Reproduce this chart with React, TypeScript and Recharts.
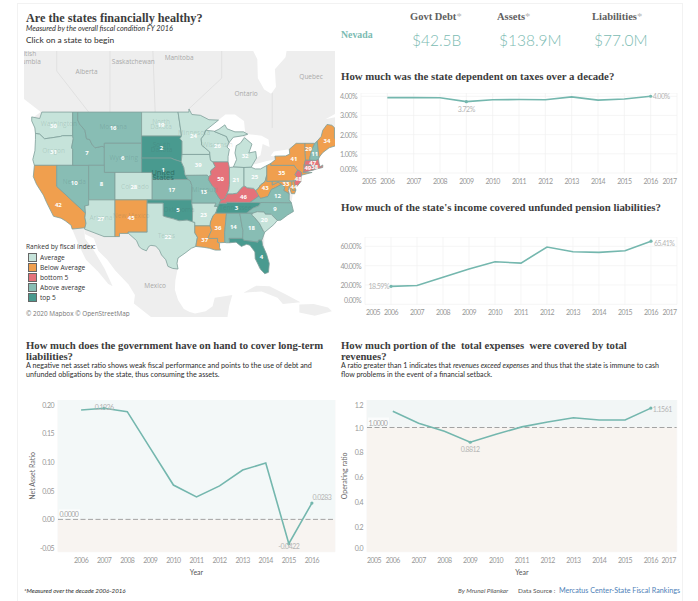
import {
  CartesianGrid,
  ComposedChart,
  Line,
  ReferenceArea,
  ReferenceLine,
  Scatter,
  ScatterChart,
  XAxis,
  YAxis,
} from "recharts";

type Lonlat = [number, number];

const years = [2006, 2007, 2008, 2009, 2010, 2011, 2012, 2013, 2014, 2015, 2016];
const yearsWide = [2005, ...years, 2017];

const taxShare = [3.93, 3.93, 3.92, 3.72, 3.82, 3.83, 3.82, 3.97, 3.8, 3.86, 4.0];
const pensionCover = [18.59, 19.5, 28, 36.5, 44, 42.7, 59.3, 54.5, 53.8, 55.5, 65.41];
const netAssetRatio = [0.1896, 0.1926, 0.1867, 0.123, 0.0595, 0.039, 0.058, 0.0855, 0.0977, -0.0422, 0.0283];
const operatingRatio = [1.1315, 1.035, 0.97, 0.8812, 0.946, 1.005, 1.045, 1.078, 1.06, 1.06, 1.1561];

const tierColors: Record<string, string> = {
  Average: "#c6e3da",
  "Below Average": "#f09f4e",
  "bottom 5": "#e4727a",
  "Above average": "#88bdb4",
  "top 5": "#499a8f",
};
const tierNames = Object.keys(tierColors);

// state, rank, tier, label lon, label lat
const stateRanks: [string, string, string, number, number][] = [
  ["WA", "30", "Average", -120.6, 47.3],
  ["OR", "31", "Average", -120.6, 43.9],
  ["CA", "42", "Below Average", -119.7, 36.2],
  ["NV", "10", "Above average", -116.7, 39.5],
  ["ID", "7", "Above average", -114.3, 43.7],
  ["MT", "16", "Above average", -109.4, 47],
  ["WY", "6", "Above average", -107.6, 43],
  ["UT", "8", "Above average", -111.6, 39.3],
  ["AZ", "27", "Average", -111.7, 34.1],
  ["CO", "28", "Average", -105.5, 38.9],
  ["NM", "45", "Below Average", -106, 34.3],
  ["ND", "19", "Average", -100.4, 47.4],
  ["SD", "2", "top 5", -100.3, 44.4],
  ["NE", "1", "top 5", -100, 41.4],
  ["KS", "17", "Above average", -98.4, 38.4],
  ["OK", "5", "top 5", -97.2, 35.4],
  ["TX", "22", "Average", -99.1, 31.2],
  ["MN", "24", "Average", -94.3, 46],
  ["IA", "39", "Average", -93.4, 42],
  ["MO", "13", "Above average", -92.4, 38.2],
  ["AR", "23", "Average", -92.4, 34.7],
  ["LA", "37", "Below Average", -92.2, 30.8],
  ["MS", "36", "Below Average", -89.7, 32.7],
  ["AL", "14", "Above average", -86.8, 32.8],
  ["GA", "18", "Above average", -83.4, 32.7],
  ["FL", "4", "top 5", -81.5, 28],
  ["TN", "3", "top 5", -86.2, 35.8],
  ["KY", "46", "bottom 5", -84.9, 37.5],
  ["IL", "50", "bottom 5", -89.2, 40],
  ["WI", "26", "Average", -89.8, 44.6],
  ["MI", "32", "Average", -84.6, 43.3],
  ["IN", "21", "Average", -86.3, 39.9],
  ["OH", "25", "Average", -82.8, 40.3],
  ["WV", "43", "Below Average", -80.8, 38.7],
  ["VA", "12", "Above average", -78.5, 37.6],
  ["NC", "9", "Above average", -79, 35.6],
  ["SC", "20", "Average", -81, 33.9],
  ["PA", "35", "Below Average", -77.7, 40.9],
  ["NY", "41", "Below Average", -75.4, 42.9],
  ["NJ", "48", "bottom 5", -74.6, 40.1],
  ["MD", "33", "Below Average", -76.9, 39.4],
  ["DE", "44", "Below Average", -75.4, 38.9],
  ["CT", "49", "bottom 5", -72.8, 41.6],
  ["RI", "38", "bottom 5", -71.5, 41.7],
  ["MA", "47", "bottom 5", -71.9, 42.35],
  ["VT", "29", "Below Average", -72.7, 44.2],
  ["NH", "11", "Above average", -71.5, 43.6],
  ["ME", "34", "Below Average", -69.2, 45.3],
];

const stateOutlines: Record<string, Lonlat[][]> = {
  WA: [[[-124.7,48.4],[-123.2,48.2],[-122.8,49],[-117,49],[-117,46],[-118.9,46],[-119.3,45.9],[-121.2,45.7],[-122.3,45.6],[-123.2,46.2],[-124,46.3],[-124.1,47],[-124.7,47.9]]],
  OR: [[[-124,46.3],[-123.2,46.2],[-122.3,45.6],[-121.2,45.7],[-119.3,45.9],[-118.9,46],[-117,46],[-116.9,45.6],[-117.2,44.4],[-117,44.2],[-117,42],[-124.2,42],[-124.5,42.8],[-124.1,44],[-124,45.5]]],
  CA: [[[-124.2,42],[-120,42],[-120,39],[-114.6,35],[-114.7,34.3],[-114.5,33.4],[-114.7,32.7],[-117.1,32.5],[-117.3,33.1],[-118.4,33.8],[-119.2,34.2],[-120.6,34.5],[-121.9,36.6],[-122.5,37.7],[-123.8,39.3],[-124.4,40.4]]],
  NV: [[[-120,42],[-114,42],[-114,36.2],[-114.7,36.1],[-114.6,35],[-120,39]]],
  ID: [[[-117,49],[-116.05,49],[-116.05,48],[-115.7,47.5],[-114.7,46.7],[-114.4,45.6],[-113.8,45.5],[-113.4,44.9],[-112.8,44.4],[-111.5,44.6],[-111.05,44.5],[-111.05,42],[-117,42],[-117,44.2],[-117.2,44.4],[-116.9,45.6],[-117,46]]],
  MT: [[[-116.05,49],[-104.05,49],[-104.05,45],[-111.05,45],[-111.05,44.5],[-111.5,44.6],[-112.8,44.4],[-113.4,44.9],[-113.8,45.5],[-114.4,45.6],[-114.7,46.7],[-115.7,47.5],[-116.05,48]]],
  WY: [[[-111.05,45],[-104.05,45],[-104.05,41],[-111.05,41]]],
  UT: [[[-114,42],[-111.05,42],[-111.05,41],[-109.05,41],[-109.05,37],[-114,37]]],
  AZ: [[[-114,37],[-109.05,37],[-109.05,31.3],[-111.1,31.3],[-114.8,32.5],[-114.7,32.7],[-114.5,33.4],[-114.7,34.3],[-114.6,35],[-114.7,36.1],[-114,36.2]]],
  CO: [[[-109.05,41],[-102.05,41],[-102.05,37],[-109.05,37]]],
  NM: [[[-109.05,37],[-103,37],[-103,32],[-106.6,32],[-106.5,31.8],[-108.2,31.8],[-108.2,31.3],[-109.05,31.3]]],
  ND: [[[-104.05,49],[-97.2,49],[-96.6,46.3],[-96.55,45.95],[-104.05,45.95]]],
  SD: [[[-104.05,45.95],[-96.55,45.95],[-96.85,45.6],[-96.45,45.3],[-96.45,43.5],[-96.6,42.5],[-97.9,42.8],[-98.5,43],[-104.05,43]]],
  NE: [[[-104.05,43],[-98.5,43],[-97.9,42.8],[-96.6,42.5],[-96.1,41.7],[-95.9,40.7],[-95.3,40],[-102.05,40],[-102.05,41],[-104.05,41]]],
  KS: [[[-102.05,40],[-95.3,40],[-94.9,39.8],[-94.6,39.1],[-94.6,37],[-102.05,37]]],
  OK: [[[-103,37],[-94.6,37],[-94.45,35.4],[-94.5,33.65],[-95.5,33.9],[-97,33.8],[-98.1,34.1],[-99.5,34.4],[-100,34.55],[-100,36.5],[-103,36.5]]],
  TX: [[[-103,36.5],[-100,36.5],[-100,34.55],[-99.5,34.4],[-98.1,34.1],[-97,33.8],[-95.5,33.9],[-94.5,33.65],[-94.05,33.55],[-94.05,31.9],[-93.55,31.2],[-93.75,30.3],[-93.85,29.7],[-94.7,29.4],[-95.9,28.6],[-97.2,27.8],[-97.4,26.9],[-97.2,25.95],[-98.2,26.05],[-99.1,26.4],[-99.5,27.5],[-100.3,28.3],[-100.7,29.1],[-101.4,29.77],[-102.3,29.88],[-102.7,29.7],[-103.15,28.98],[-104,29.3],[-104.5,29.65],[-105,30.65],[-106.5,31.8],[-106.6,32],[-103,32]]],
  MN: [[[-97.2,49],[-95.15,49],[-95.15,49.38],[-94.6,48.7],[-93,48.6],[-91.4,48.05],[-89.6,48],[-92,46.7],[-92.3,46.1],[-92.85,45.6],[-92.75,44.75],[-91.25,43.85],[-91.22,43.5],[-96.45,43.5],[-96.45,45.3],[-96.85,45.6],[-96.55,45.95],[-96.6,46.3]]],
  IA: [[[-96.45,43.5],[-91.22,43.5],[-91.1,42.7],[-90.65,42.5],[-90.2,41.8],[-91.1,41.2],[-91,40.7],[-91.42,40.38],[-91.7,40.6],[-95.8,40.58],[-95.9,40.7],[-96.1,41.7],[-96.6,42.5]]],
  MO: [[[-95.8,40.58],[-91.7,40.6],[-91.42,40.38],[-91.5,40],[-90.7,39],[-90.2,38.7],[-90.2,38.2],[-89.5,37.3],[-89.15,36.98],[-89.4,36.5],[-89.7,36],[-90.37,36],[-90.1,36.5],[-94.62,36.5],[-94.6,37],[-94.6,39.1],[-94.9,39.8],[-95.3,40]]],
  AR: [[[-94.62,36.5],[-90.1,36.5],[-90.37,36],[-89.7,36],[-90.1,35],[-90.6,34.6],[-91.1,33.6],[-91.17,33],[-94.05,33],[-94.05,33.55],[-94.5,33.65],[-94.45,35.4]]],
  LA: [[[-94.05,33],[-91.17,33],[-90.9,32.3],[-91.6,31],[-89.75,31],[-89.8,30.4],[-89.4,30.2],[-89.4,29.5],[-89.2,29.1],[-90.2,29.1],[-91.3,29.4],[-92.3,29.55],[-93.85,29.7],[-93.75,30.3],[-93.55,31.2],[-94.05,31.9]]],
  MS: [[[-90.1,35],[-88.2,35],[-88.1,34.9],[-88.45,31.9],[-88.4,30.35],[-89.4,30.3],[-89.8,30.4],[-89.75,31],[-91.6,31],[-90.9,32.3],[-91.17,33],[-91.1,33.6],[-90.6,34.6]]],
  AL: [[[-88.2,35],[-85.6,35],[-85.15,32.85],[-85,32.3],[-85.05,31],[-87.6,31],[-87.5,30.3],[-88.1,30.3],[-88.4,30.35],[-88.45,31.9],[-88.1,34.9]]],
  GA: [[[-85.6,35],[-83.1,35],[-83.35,34.7],[-82.8,34.3],[-81.9,33.4],[-81.1,32.1],[-80.9,32],[-81.45,30.7],[-82.05,30.75],[-82.2,30.4],[-84.85,30.7],[-85.05,31],[-85,32.3],[-85.15,32.85]]],
  FL: [[[-87.6,31],[-85.05,31],[-84.85,30.7],[-82.2,30.4],[-82.05,30.75],[-81.45,30.7],[-81.3,29.9],[-80.55,28.4],[-80.05,26.9],[-80.2,25.4],[-80.9,25.15],[-81.7,25.9],[-82.7,27.7],[-82.75,28.8],[-83.7,29.9],[-84.3,30.05],[-85.3,29.7],[-86.3,30.4],[-87.5,30.3]]],
  TN: [[[-90.1,35],[-89.7,36],[-89.4,36.5],[-88.05,36.5],[-88.07,36.65],[-83.7,36.6],[-81.65,36.6],[-82,36.1],[-83.1,35.75],[-84.3,35],[-88.2,35]]],
  KY: [[[-89.4,36.5],[-89.15,36.98],[-88.5,37.1],[-87.9,37.9],[-87,37.9],[-86.1,38],[-85.4,38.7],[-84.8,39.1],[-84.2,38.8],[-83,38.7],[-82.6,38.4],[-82,37.55],[-83.7,36.6],[-88.07,36.65],[-88.05,36.5]]],
  IL: [[[-91.42,40.38],[-91,40.7],[-91.1,41.2],[-90.2,41.8],[-90.65,42.5],[-87.8,42.5],[-87.55,41.7],[-87.53,39.3],[-87.65,38.5],[-88.05,37.8],[-88.5,37.1],[-89.15,36.98],[-89.5,37.3],[-90.2,38.2],[-90.2,38.7],[-90.7,39],[-91.5,40]]],
  WI: [[[-92,46.7],[-90.5,46.6],[-88.1,45.9],[-87.6,45.1],[-88,44.5],[-87.55,44.2],[-87.8,43.2],[-87.8,42.5],[-90.65,42.5],[-91.1,42.7],[-91.22,43.5],[-91.25,43.85],[-92.75,44.75],[-92.85,45.6],[-92.3,46.1]]],
  MI: [
    [[-86.8,41.76],[-84.8,41.7],[-83.45,41.73],[-83.1,42.2],[-82.45,43],[-82.6,43.9],[-83.9,43.7],[-83.3,44.9],[-84.7,45.75],[-85.5,45],[-86.25,44.7],[-86.5,43.7],[-86.2,42.8]],
    [[-90.4,46.55],[-88.1,45.9],[-87.6,45.1],[-86.8,45.8],[-85,46],[-84.1,46.2],[-84.9,46.5],[-86.5,46.5],[-88,46.9],[-88.4,47.4],[-89.5,46.85]],
  ],
  IN: [[[-87.53,41.7],[-86.8,41.76],[-84.8,41.7],[-84.8,39.1],[-85.4,38.7],[-86.1,38],[-87,37.9],[-87.9,37.9],[-88.05,37.8],[-87.65,38.5],[-87.53,39.3]]],
  OH: [[[-84.8,41.7],[-83.45,41.73],[-82.7,41.5],[-81.7,41.5],[-80.52,41.98],[-80.52,40.64],[-80.85,39.7],[-81.7,39.2],[-82.2,38.6],[-82.6,38.4],[-83,38.7],[-84.2,38.8],[-84.8,39.1]]],
  WV: [[[-82.6,38.4],[-82.2,38.6],[-81.7,39.2],[-80.85,39.7],[-80.52,40.64],[-80.52,39.72],[-79.48,39.72],[-79.48,39.2],[-78.4,39.62],[-77.75,39.3],[-78.9,38.8],[-79.65,38.55],[-80.3,37.5],[-81.7,37.2],[-82,37.55]]],
  VA: [[[-83.7,36.6],[-82,37.55],[-81.7,37.2],[-80.3,37.5],[-79.65,38.55],[-78.9,38.8],[-77.75,39.3],[-77.1,38.85],[-77.3,38.4],[-76.3,37.9],[-76.3,37],[-75.9,36.55],[-81.65,36.6]]],
  NC: [[[-81.65,36.6],[-75.9,36.55],[-75.5,35.25],[-76.6,34.7],[-77.9,33.9],[-78.55,33.85],[-79.7,34.8],[-80.8,34.82],[-81,35.15],[-82.3,35.2],[-83.1,35],[-84.3,35],[-83.1,35.75],[-82,36.1]]],
  SC: [[[-83.1,35],[-82.3,35.2],[-81,35.15],[-80.8,34.82],[-79.7,34.8],[-78.55,33.85],[-79.2,33.2],[-80.9,32],[-81.1,32.1],[-81.9,33.4],[-82.8,34.3],[-83.35,34.7]]],
  PA: [[[-80.52,41.98],[-79.76,42.27],[-79.76,42],[-75.35,42],[-75.05,41.6],[-74.7,41.36],[-75.2,40.7],[-74.75,40.2],[-75.4,39.8],[-80.52,39.72],[-80.52,40.64]]],
  NY: [[[-79.76,42.27],[-78.9,42.8],[-79,43.27],[-77,43.3],[-76.2,43.55],[-76.3,44.2],[-75,45],[-73.35,45],[-73.3,43.6],[-73.25,42.75],[-73.5,42.05],[-73.5,41.3],[-73.65,41],[-72,41],[-74.05,40.6],[-74,41],[-74.7,41.36],[-75.05,41.6],[-75.35,42],[-79.76,42]]],
  NJ: [[[-74.7,41.36],[-74,41],[-74.05,40.4],[-74.1,39.7],[-74.9,38.95],[-75.5,39.5],[-74.75,40.2],[-75.2,40.7]]],
  DE: [[[-75.8,39.72],[-75.4,39.8],[-75.05,38.45],[-75.7,38.45]]],
  MD: [[[-79.48,39.72],[-75.8,39.72],[-75.7,38.45],[-75.05,38.45],[-75.3,37.9],[-75.9,37.95],[-76.3,39],[-76.5,38.4],[-76.3,37.95],[-77.3,38.4],[-77.1,38.85],[-77.75,39.3],[-78.4,39.62],[-79.48,39.2]]],
  CT: [[[-73.5,42.05],[-71.8,42],[-71.85,41.32],[-73.65,41],[-73.5,41.3]]],
  RI: [[[-71.8,42],[-71.38,42],[-71.15,41.5],[-71.85,41.32]]],
  MA: [[[-73.5,42.05],[-73.25,42.75],[-71.3,42.7],[-70.8,42.87],[-70.7,42.3],[-70.5,41.8],[-70,42.05],[-70,41.7],[-71.15,41.5],[-71.38,42],[-71.8,42]]],
  VT: [[[-73.35,45],[-71.5,45],[-72.05,44.1],[-72.45,43],[-72.45,42.73],[-73.25,42.75],[-73.3,43.6]]],
  NH: [[[-71.5,45],[-71.05,45.3],[-70.7,43.1],[-70.8,42.87],[-71.3,42.7],[-72.45,42.73],[-72.45,43],[-72.05,44.1]]],
  ME: [[[-71.05,45.3],[-70.3,45.9],[-70,46.7],[-69.2,47.45],[-68.3,47.35],[-67.8,47.05],[-67.8,45.7],[-67,44.8],[-68.8,44.4],[-70,43.75],[-70.7,43.1]]],
};

const landOutlines: Lonlat[][] = [
  [[-127,57],[-84,57],[-82.3,55.1],[-82.2,53],[-81,51.7],[-79.7,51.2],[-78.8,52],[-79,54],[-77,55.3],[-76.5,57],[-66,57],[-66,49.4],[-69.5,48.1],[-66,48.6],[-66,45.5],[-68,45],[-70.5,43.5],[-71,42],[-74.2,40.5],[-75.5,38.5],[-76,36],[-78,34.5],[-81,32.5],[-81,30],[-81,26],[-82,26],[-83,29.5],[-85,30.5],[-89,30.8],[-92,30],[-95,29.8],[-97.3,27.5],[-97.3,25.9],[-97.7,24],[-97.8,22.4],[-97.2,20.6],[-96.1,19],[-95,18.5],[-94,18.2],[-92,18.6],[-90.7,19.5],[-90.3,21],[-87,21.5],[-87.6,19.5],[-88,17],[-101.5,17],[-105.5,20],[-105.3,21.5],[-106.5,23.3],[-109,25.7],[-110.5,27.5],[-112.2,29],[-113,31],[-114.7,31.7],[-114.8,32.5],[-117,32.6],[-118,34],[-122,37],[-124,40],[-124,46],[-124.5,48.3],[-123,49],[-125,50],[-127,51]],
  [[-117.1,32.5],[-114.8,32.5],[-114.7,31],[-113,29],[-111,26],[-109.5,23],[-110.3,23.4],[-112.2,25.5],[-114.5,27.5],[-115.9,30]],
  [[-84.9,21.9],[-82.5,23.1],[-80,23],[-77,21.6],[-74.2,20.2],[-77.5,19.9],[-78.5,21],[-81.5,22.1]],
  [[-74.4,19.8],[-71.7,19.9],[-69,19.3],[-68.3,18.6],[-71.5,17.8],[-74.4,18.4]],
];

const lakeOutlines: Lonlat[][] = [
  [[-92.1,46.7],[-89.6,48],[-88.3,48.7],[-86.5,48.7],[-84.8,47.9],[-84.6,46.5],[-86.5,46.5],[-88,46.9],[-88.4,47.4],[-89.5,46.85],[-90.5,46.6]],
  [[-87.8,42.5],[-87.55,41.7],[-86.8,41.76],[-86.2,42.8],[-86.5,43.7],[-86.25,44.7],[-85.5,45],[-84.9,45.8],[-85,46],[-86.8,45.8],[-87.6,45.1],[-88,44.5],[-87.55,44.2],[-87.8,43.2]],
  [[-84.7,45.8],[-83.3,44.9],[-83.9,43.7],[-82.6,43.9],[-82.45,43],[-81.7,43.4],[-81.3,44.9],[-80,44.5],[-80.2,45.5],[-81.5,46],[-84,46.2]],
  [[-83.45,41.73],[-82.7,41.5],[-81.7,41.5],[-80.52,41.98],[-78.9,42.8],[-80.5,42.6],[-83.1,42.1]],
  [[-79.8,43.3],[-79,43.27],[-77,43.3],[-76.2,43.55],[-76.3,44.2],[-79.2,43.9]],
];

const borderLines: Lonlat[][] = [
  [[-120,57],[-120,53.8],[-114,49]],
  [[-110,57],[-110,49]],
  [[-102,57],[-101.5,49]],
  [[-89,57],[-89,53],[-95.15,49.4]],
  [[-79.5,47],[-79.5,51.3]],
];

const placeNames: [string, number, number][] = [
  ["British", -125.7, 55.7],
  ["Columbia", -125.7, 54.9],
  ["Alberta", -114.4, 53.7],
  ["Saskatchewan", -105.6, 54.8],
  ["Manitoba", -97, 55.3],
  ["Ontario", -84.4, 51.2],
  ["Quebec", -72.2, 53.2],
  ["Mexico", -101.5, 23.1],
];

const faintStateNames: [string, number, number][] = [
  ["Washington", -119.6, 47.55],
  ["Oregon", -120.6, 44.1],
  ["Montana", -109.4, 47.25],
  ["North", -100.4, 47.8],
  ["Dakota", -100.4, 47.2],
  ["South", -100.3, 44.9],
  ["Dakota", -100.3, 44.2],
  ["Nevada", -116.7, 39.7],
  ["Wyoming", -107.4, 43.1],
  ["Colorado", -105.3, 39],
  ["Arizona", -111.7, 34.3],
  ["New Mexico", -106, 34.6],
  ["Texas", -99.4, 31.4],
  ["Oklahoma", -97, 35.5],
  ["Minnesota", -94.2, 46.4],
  ["Wisconsin", -89.8, 44.8],
  ["Missouri", -92.2, 38.5],
  ["Tennessee", -86.4, 35.9],
];

const MAP_FONT = "'Open Sans', sans-serif";
const BOOK_FONT = "Lato, 'Open Sans', sans-serif";
const HEAD_FONT = "'Liberation Serif', serif";
const TEAL = "#7bbbb2";
const LINE_TEAL = "#74b7ae";

// web map vertical position
const merc = (lat: number) => Math.log(Math.tan(Math.PI / 4 + (lat * Math.PI) / 360));
const toPoints = (ring: Lonlat[]) => [...ring, ring[0]].map(([lon, lat]) => ({ x: lon, y: merc(lat) }));

const ring = (key: string, pts: Lonlat[], fill: string, stroke: string, strokeWidth = 0.8) => (
  <Scatter
    key={key}
    data={toPoints(pts)}
    line={{ fill, stroke, strokeWidth }}
    shape={() => null}
    isAnimationActive={false}
  />
);

const textLayer = (key: string, rows: [string, number, number][], style: any) => (
  <Scatter
    key={key}
    data={rows.map(([label, lon, lat]) => ({ x: lon, y: merc(lat), label }))}
    isAnimationActive={false}
    shape={(p: any) => (
      <text x={p.cx} y={p.cy} textAnchor="middle" dominantBaseline="central" fontFamily={MAP_FONT} {...style}>
        {p.payload.label}
      </text>
    )}
  />
);

function StateMap() {
  return (
    <div style={{ position: "absolute", left: 24, top: 51, width: 311, height: 266, overflow: "hidden", background: "#fff" }}>
      <ScatterChart width={311} height={266} margin={{ top: 0, right: 0, bottom: 0, left: 0 }}>
        <XAxis type="number" dataKey="x" domain={[-126.15, -67.7]} allowDataOverflow hide />
        <YAxis type="number" dataKey="y" domain={[0.312, 1.184]} allowDataOverflow hide />
        {landOutlines.map((r, i) => ring(`land${i}`, r, "#eeeeee", "none", 0))}
        {lakeOutlines.map((r, i) => ring(`lake${i}`, r, "#ffffff", "none", 0))}
        {borderLines.map((r, i) => (
          <Scatter
            key={`border${i}`}
            data={r.map(([lon, lat]) => ({ x: lon, y: merc(lat) }))}
            line={{ stroke: "#d6d6d6", strokeWidth: 0.6 }}
            shape={() => null}
            isAnimationActive={false}
          />
        ))}
        {textLayer("places", placeNames, { fontSize: 6.5, fill: "#a9a9a9" })}
        {stateRanks.flatMap(([code, , tier]) =>
          stateOutlines[code].map((r, i) => ring(`${code}${i}`, r, tierColors[tier], "#7f9f9b"))
        )}
        {textLayer("faint", faintStateNames, { fontSize: 6.5, fill: "rgba(70,100,100,0.2)" })}
        {textLayer("us", [["United", -100, 41.1], ["States", -100, 40.4]], { fontSize: 7.5, fill: "#2f6f66" })}
        {textLayer(
          "ranks",
          stateRanks.map(([, rank, , lon, lat]) => [rank, lon, lat] as [string, number, number]),
          { fontSize: 6, fontWeight: 700, fill: "#ffffff" }
        )}
      </ScatterChart>
      <div style={{ position: "absolute", left: 2, top: 191, font: `6.6px ${MAP_FONT}`, color: "#333" }}>
        <div style={{ height: 10 }}>Ranked by fiscal index:</div>
        {tierNames.map((name) => (
          <div key={name} style={{ display: "flex", alignItems: "center", height: 10, marginLeft: 2 }}>
            <span style={{ width: 7, height: 7, background: tierColors[name], border: "0.8px solid #666", marginRight: 3 }} />
            {name}
          </div>
        ))}
      </div>
      <div style={{ position: "absolute", left: 2, top: 258, font: `6.4px ${MAP_FONT}`, color: "#777", whiteSpace: "nowrap" }}>
        © 2020 Mapbox © OpenStreetMap
      </div>
    </div>
  );
}

type Note = { index: number; text: string; dx: number; dy: number; anchor?: string };

type TrendProps = {
  left: number;
  top: number;
  plotWidth: number;
  plotHeight: number;
  axisWidth: number;
  xHeight: number;
  values: number[];
  yDomain: [number, number];
  yTicks: number[];
  yFormat: (v: number) => string;
  yShift: Record<number, number>;
  xTicks: number[];
  xShift: Record<number, number>;
  notes: Note[];
  dotted: number[];
  yTitle?: string;
  xTitle?: string;
  split?: number;
  splitLabel?: string;
  upperBand?: string;
  lowerBand?: string;
};

function Trend(p: TrendProps) {
  const data = years.map((year, i) => ({ year, value: p.values[i] }));
  const tickStyle = { fontFamily: BOOK_FONT, fontSize: 7, letterSpacing: -0.5, fill: "#979797" };
  return (
    <div style={{ position: "absolute", left: p.left - p.axisWidth, top: p.top }}>
      <ComposedChart
        width={p.plotWidth + p.axisWidth + 10}
        height={p.plotHeight + p.xHeight}
        data={data}
        margin={{ top: 0, right: 10, bottom: 0, left: 0 }}
      >
        {p.upperBand && (
          <ReferenceArea y1={p.split} y2={p.yDomain[1]} x1={2005} x2={2017} fill={p.upperBand} fillOpacity={1} stroke="none" />
        )}
        {p.lowerBand && (
          <ReferenceArea y1={p.yDomain[0]} y2={p.split} x1={2005} x2={2017} fill={p.lowerBand} fillOpacity={1} stroke="none" />
        )}
        <CartesianGrid stroke="#f1f1f1" strokeWidth={0.7} />
        <XAxis
          type="number"
          dataKey="year"
          domain={[2005, 2017]}
          ticks={p.xTicks}
          height={p.xHeight}
          axisLine={false}
          tickLine={false}
          interval={0}
          tick={(t: any) => (
            <text x={t.x + (p.xShift[t.payload.value] ?? 0)} y={p.plotHeight + 8} textAnchor="middle" dominantBaseline="central" {...tickStyle}>
              {t.payload.value}
            </text>
          )}
          label={
            p.xTitle
              ? { value: p.xTitle, position: "insideBottom", offset: 7, style: { fontFamily: BOOK_FONT, fontSize: 7, fill: "#555" } }
              : undefined
          }
        />
        <YAxis
          type="number"
          domain={p.yDomain}
          ticks={p.yTicks}
          width={p.axisWidth}
          axisLine={false}
          tickLine={false}
          interval={0}
          tick={(t: any) => (
            <text x={p.axisWidth - 4} y={t.y + (p.yShift[t.payload.value] ?? 0)} textAnchor="end" dominantBaseline="central" {...tickStyle}>
              {p.yFormat(t.payload.value)}
            </text>
          )}
          label={
            p.yTitle
              ? { value: p.yTitle, angle: -90, position: "insideLeft", offset: 5, style: { textAnchor: "middle", fontFamily: BOOK_FONT, fontSize: 7, fill: "#666" } }
              : undefined
          }
        />
        {p.split !== undefined && (
          <ReferenceLine
            y={p.split}
            stroke="#9a9a9a"
            strokeDasharray="5 2.5"
            strokeWidth={0.9}
            label={(v: any) => (
              <g>
                <rect x={v.viewBox.x + 1} y={v.viewBox.y - 10} width={21} height={9} fill="#fff" fillOpacity={0.7} />
                <text x={v.viewBox.x + 1.5} y={v.viewBox.y - 5} dominantBaseline="central" {...tickStyle} fill="#a5a5a5">
                  {p.splitLabel}
                </text>
              </g>
            )}
          />
        )}
        <Line
          dataKey="value"
          stroke={LINE_TEAL}
          strokeWidth={1.6}
          isAnimationActive={false}
          dot={(d: any) =>
            p.dotted.includes(d.index) ? <circle key={d.index} cx={d.cx} cy={d.cy} r={1.6} fill={LINE_TEAL} /> : <g key={d.index} />
          }
          label={(d: any) => {
            const note = p.notes.find((n) => n.index === d.index);
            if (!note) return <g key={d.index} />;
            return (
              <text
                key={d.index}
                x={d.x + note.dx}
                y={d.y + note.dy}
                textAnchor={note.anchor ?? "middle"}
                dominantBaseline="central"
                {...tickStyle}
                fill="#b4b4b4"
              >
                {note.text}
              </text>
            );
          }}
        />
      </ComposedChart>
    </div>
  );
}

const Head = ({ x, y, children, size = 10.8, color = "#3c3c3c" }: any) => (
  <div
    style={{
      position: "absolute",
      left: x,
      top: y,
      font: `bold ${size}px ${HEAD_FONT}`,
      color,
      whiteSpace: "pre",
      lineHeight: "12px",
    }}
  >
    {children}
  </div>
);

const Small = ({ x, y, children, size = 7.2, color = "#2e2e2e", italic = false }: any) => (
  <div
    style={{
      position: "absolute",
      left: x,
      top: y,
      font: `${italic ? "italic " : ""}${size}px ${BOOK_FONT}`,
      color,
      whiteSpace: "pre",
      lineHeight: "10px",
    }}
  >
    {children}
  </div>
);

const Kpi = ({ x, label, value }: any) => (
  <>
    <Head x={x} y={11} size={10.5} color="#5f5f5f">
      {label}
      <span style={{ color: "#b5b5b5", fontWeight: 400 }}>*</span>
    </Head>
    <div style={{ position: "absolute", left: x + 2, top: 30, font: `300 15.5px ${BOOK_FONT}`, color: TEAL, whiteSpace: "nowrap", lineHeight: "20px" }}>
      {value}
    </div>
  </>
);

export default function App() {
  const pct = (v: number) => `${v.toFixed(2)}%`;
  const fix2 = (v: number) => v.toFixed(2);
  const fix1 = (v: number) => v.toFixed(1);
  return (
    <div style={{ position: "absolute", left: 0, top: 0, width: 698, height: 601, background: "#fff", overflow: "hidden" }}>
      <div style={{ position: "absolute", left: 17, top: 3, width: 664, height: 598, borderLeft: "1px solid #f2f2f2", borderRight: "1px solid #f2f2f2", borderTop: "1px solid #f2f2f2" }} />

      <Head x={26} y={12} size={12.2}>Are the states financially healthy?</Head>
      <Small x={26} y={24} size={7.3} italic>Measured by the overall fiscal condition FY 2016</Small>
      <Small x={26} y={35} size={8.4}>Click on a state to begin</Small>
      <StateMap />

      <Head x={341} y={29} size={9.8} color={TEAL}>Nevada</Head>
      <Kpi x={410} label="Govt Debt" value="$42.5B" />
      <Kpi x={497} label="Assets" value="$138.9M" />
      <Kpi x={592} label="Liabilities" value="$77.0M" />

      <Head x={341} y={70}>How much was the state dependent on taxes over a decade?</Head>
      <Trend
        left={361}
        top={92.7}
        plotWidth={316}
        plotHeight={80}
        axisWidth={26}
        xHeight={16}
        values={taxShare}
        yDomain={[0, 4.17]}
        yTicks={[0, 1, 2, 3, 4]}
        yFormat={pct}
        yShift={{ 0: -4 }}
        xTicks={yearsWide}
        xShift={{ 2005: 8, 2017: -7.5 }}
        dotted={[3, 10]}
        notes={[
          { index: 3, text: "3.72%", dx: 0, dy: 7 },
          { index: 10, text: "4.00%", dx: 2, dy: 0, anchor: "start" },
        ]}
      />

      <Head x={341} y={201}>How much of the state's income covered unfunded pension liabilities?</Head>
      <Trend
        left={365}
        top={236.7}
        plotWidth={312}
        plotHeight={67.3}
        axisWidth={30}
        xHeight={16}
        values={pensionCover}
        yDomain={[0, 69.7]}
        yTicks={[0, 20, 40, 60]}
        yFormat={pct}
        yShift={{ 0: -4 }}
        xTicks={yearsWide}
        xShift={{ 2005: 8, 2017: -7.5 }}
        dotted={[0, 10]}
        notes={[
          { index: 0, text: "18.59%", dx: -2, dy: 0, anchor: "end" },
          { index: 10, text: "65.41%", dx: 3, dy: 2.3, anchor: "start" },
        ]}
      />

      <Head x={26} y={339} size={10.7}>How much does the government have on hand to cover long-term</Head>
      <Head x={26} y={350} size={10.7}>liabilities?</Head>
      <Small x={26} y={360.5}>A negative net asset ratio shows weak fiscal performance and points to the use of debt and</Small>
      <Small x={26} y={370}>unfunded obligations by the state, thus consuming the assets.</Small>
      <Trend
        left={58}
        top={400}
        plotWidth={277}
        plotHeight={151.7}
        axisWidth={30}
        xHeight={30}
        values={netAssetRatio}
        yDomain={[-0.056, 0.2069]}
        yTicks={[-0.05, 0, 0.05, 0.1, 0.15, 0.2]}
        yFormat={fix2}
        yShift={{ 0.2: 1 }}
        xTicks={years}
        xShift={{}}
        dotted={[1, 9, 10]}
        notes={[
          { index: 1, text: "0.1926", dx: 0, dy: -1.3 },
          { index: 9, text: "-0.0422", dx: 0, dy: 2.5 },
          { index: 10, text: "0.0283", dx: 10, dy: -6 },
        ]}
        yTitle="Net Asset Ratio"
        xTitle="Year"
        split={0}
        splitLabel="0.0000"
        upperBand="#f3f8f8"
        lowerBand="#f8f4f1"
      />

      <Head x={341} y={339} size={10.7}>How much portion of the  total expenses  were covered by total</Head>
      <Head x={341} y={350} size={10.7}>revenues?</Head>
      <Small x={341} y={360.5} size={7.1}>
        A ratio greater than 1 indicates that <i>revenues exceed expenses</i> and thus that the state is immune to cash
      </Small>
      <Small x={341} y={370} size={7.1}>flow problems in the event of a financial setback.</Small>
      <Trend
        left={367.3}
        top={400}
        plotWidth={309.7}
        plotHeight={151.7}
        axisWidth={27}
        xHeight={30}
        values={operatingRatio}
        yDomain={[0, 1.2215]}
        yTicks={[0, 0.2, 0.4, 0.6, 0.8, 1, 1.2]}
        yFormat={fix1}
        yShift={{ 0: -4, 1.2: 2 }}
        xTicks={yearsWide}
        xShift={{ 2005: 7, 2017: -8 }}
        dotted={[3, 10]}
        notes={[
          { index: 3, text: "0.8812", dx: 0, dy: 7 },
          { index: 10, text: "1.1561", dx: 2, dy: 1, anchor: "start" },
        ]}
        yTitle="Operating ratio"
        xTitle="Year"
        split={1}
        splitLabel="1.0000"
        upperBand="#f2f6f6"
        lowerBand="#f8f4f0"
      />

      <Small x={24} y={586} size={6.2} italic>*Measured over the decade 2006-2016</Small>
      <Small x={458} y={586} size={6.4} italic color="#555">By Mrunal Pilankar</Small>
      <Small x={518} y={586} size={6.4} color="#555">Data Source :</Small>
      <Small x={559} y={586} size={7.2} color="#4f7fb8">Mercatus Center-State Fiscal Rankings</Small>
    </div>
  );
}
